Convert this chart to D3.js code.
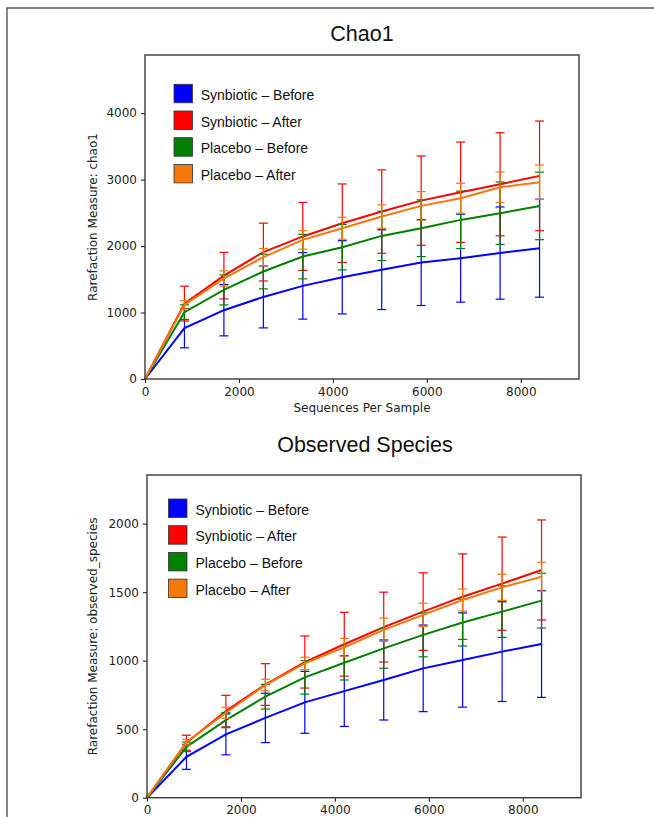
<!DOCTYPE html>
<html>
<head>
<meta charset="utf-8">
<script src="https://cdn.jsdelivr.net/npm/d3@7"></script>
<style>
  html, body { margin: 0; padding: 0; background: #fff; }
  svg { display: block; }
</style>
</head>
<body>
<svg id="chart" width="654" height="817"></svg>
<script>
// ---------------- DATA ----------------
const seqDepth = [0, 840, 1680, 2520, 3360, 4200, 5040, 5880, 6720, 7560, 8400];
const groups = ["Synbiotic \u2013 Before", "Synbiotic \u2013 After", "Placebo \u2013 Before", "Placebo \u2013 After"];
const groupColors = ["#0000ff", "#ff0000", "#007f00", "#f5780a"];

// Chao1
const chao1SynBeforeMean = [0, 765, 1035, 1235, 1401, 1530, 1645, 1752, 1818, 1895, 1968];
const chao1SynBeforeSd   = [0, 296, 386, 466, 500, 551, 600, 646, 662, 694, 737];
const chao1SynAfterMean  = [0, 1135, 1555, 1910, 2145, 2344, 2519, 2684, 2810, 2930, 3056];
const chao1SynAfterSd    = [0, 262, 350, 435, 511, 591, 627, 672, 755, 775, 825];
const chao1PlaBeforeMean = [0, 1006, 1341, 1617, 1842, 1983, 2153, 2269, 2394, 2494, 2604];
const chao1PlaBeforeSd   = [0, 110, 226, 261, 335, 341, 371, 427, 432, 470, 508];
const chao1PlaAfterMean  = [0, 1116, 1512, 1833, 2093, 2269, 2444, 2605, 2720, 2885, 2961];
const chao1PlaAfterSd    = [0, 62, 115, 130, 140, 165, 176, 215, 226, 230, 260];

// Observed species
const obsSynBeforeMean = [0, 298, 462, 582, 696, 778, 859, 944, 1005, 1066, 1122];
const obsSynBeforeSd   = [0, 91, 149, 180, 226, 258, 292, 316, 344, 364, 390];
const obsSynAfterMean  = [0, 401, 632, 826, 990, 1120, 1245, 1358, 1467, 1562, 1662];
const obsSynAfterSd    = [0, 55, 115, 152, 190, 233, 255, 283, 312, 340, 365];
const obsPlaBeforeMean = [0, 371, 566, 737, 878, 985, 1090, 1188, 1278, 1358, 1438];
const obsPlaBeforeSd   = [0, 35, 55, 90, 122, 126, 145, 160, 171, 188, 200];
const obsPlaAfterMean  = [0, 405, 620, 822, 980, 1098, 1225, 1334, 1443, 1535, 1613];
const obsPlaAfterSd    = [0, 20, 40, 42, 45, 65, 85, 85, 80, 95, 105];

const xTicks = [0, 2000, 4000, 6000, 8000];
const chao1YTicks = [0, 1000, 2000, 3000, 4000];
const obsYTicks = [0, 500, 1000, 1500, 2000];

// ---------------- DRAW ----------------
const svg = d3.select("#chart");

// outer frame (left + top edges visible)
svg.append("path")
  .attr("d", "M7,817 L7,8 L654,8")
  .attr("fill", "none").attr("stroke", "#555").attr("stroke-width", 1.4);

function drawPanel(cfg) {
  const { left, right, top, bottom, yMax, title, titleX, titleY, yLabel, xLabel,
          means, sds, yTicks, legX, legY, legTextX } = cfg;
  const x = d3.scaleLinear().domain([0, 9240]).range([left, right]);
  const y = d3.scaleLinear().domain([0, yMax]).range([bottom, top]);
  const g = svg.append("g");

  // title
  g.append("text").attr("x", titleX).attr("y", titleY)
    .attr("text-anchor", "middle")
    .style("font-family", "'Liberation Sans', Arial, sans-serif")
    .style("font-size", "21.5px").attr("fill", "#111").text(title);

  // series
  const plot = g.append("g");
  means.forEach((m, si) => {
    const col = groupColors[si];
    const sd = sds[si];
    const pts = seqDepth.map((d, i) => ({ x: d, m: m[i], s: sd[i] }));
    // error bars
    const eb = plot.append("g").attr("stroke", col).attr("stroke-width", 1.2).attr("fill", "none");
    pts.forEach(p => {
      if (p.s <= 0) return;
      eb.append("line").attr("x1", x(p.x)).attr("x2", x(p.x))
        .attr("y1", y(p.m - p.s)).attr("y2", y(p.m + p.s));
      [p.m - p.s, p.m + p.s].forEach(v => {
        eb.append("line").attr("x1", x(p.x) - 4.5).attr("x2", x(p.x) + 4.5)
          .attr("y1", y(v)).attr("y2", y(v));
      });
    });
    // mean line
    plot.append("path").datum(pts)
      .attr("d", d3.line().x(p => x(p.x)).y(p => y(p.m)))
      .attr("fill", "none").attr("stroke", col).attr("stroke-width", 2);
  });

  // axes
  const xAxis = d3.axisBottom(x).tickValues(xTicks).tickSize(4).tickPadding(4).tickFormat(d3.format("d"));
  const yAxis = d3.axisLeft(y).tickValues(yTicks).tickSize(4).tickPadding(4).tickFormat(d3.format("d"));
  const gx = g.append("g").attr("transform", `translate(0,${bottom})`).call(xAxis);
  const gy = g.append("g").attr("transform", `translate(${left},0)`).call(yAxis);
  [gx, gy].forEach(a => {
    a.select(".domain").remove();
    a.selectAll("line").attr("stroke", "#222").attr("stroke-width", 1.1);
    a.selectAll("text").style("font-family", "'DejaVu Sans', sans-serif")
      .style("font-size", "12px").attr("fill", "#222");
  });

  // frame
  g.append("rect").attr("x", left).attr("y", top)
    .attr("width", right - left).attr("height", bottom - top)
    .attr("fill", "none").attr("stroke", "#3a3a3a").attr("stroke-width", 1.4);

  // axis labels
  g.append("text").attr("transform", `translate(93,${(top + bottom) / 2}) rotate(-90)`)
    .attr("text-anchor", "middle").attr("dominant-baseline", "central")
    .style("font-family", "'DejaVu Sans', sans-serif").style("font-size", "12px")
    .attr("fill", "#222").text(yLabel);
  if (xLabel) {
    g.append("text").attr("x", (left + right) / 2).attr("y", bottom + 33)
      .attr("text-anchor", "middle")
      .style("font-family", "'DejaVu Sans', sans-serif").style("font-size", "12px")
      .attr("fill", "#222").text(xLabel);
  }

  // legend
  const leg = g.append("g");
  groups.forEach((name, i) => {
    const yy = legY + i * 26.7;
    leg.append("rect").attr("x", legX).attr("y", yy).attr("width", 18.5).attr("height", 18.5)
      .attr("fill", groupColors[i]).attr("stroke", "#333").attr("stroke-width", 0.8);
    leg.append("text").attr("x", legTextX).attr("y", yy + 15.5)
      .style("font-family", "'Liberation Sans', Arial, sans-serif").style("font-size", "14px")
      .attr("fill", "#111").text(name);
  });
}

drawPanel({
  left: 145, right: 579, top: 55, bottom: 379, yMax: 4875,
  title: "Chao1", titleX: 362, titleY: 41,
  yLabel: "Rarefaction Measure: chao1", xLabel: "Sequences Per Sample",
  means: [chao1SynBeforeMean, chao1SynAfterMean, chao1PlaBeforeMean, chao1PlaAfterMean],
  sds: [chao1SynBeforeSd, chao1SynAfterSd, chao1PlaBeforeSd, chao1PlaAfterSd],
  yTicks: chao1YTicks, legX: 174, legY: 84.3, legTextX: 200.7
});

drawPanel({
  left: 147, right: 581, top: 475, bottom: 797.7, yMax: 2355,
  title: "Observed Species", titleX: 365, titleY: 452,
  yLabel: "Rarefaction Measure: observed_species", xLabel: null,
  means: [obsSynBeforeMean, obsSynAfterMean, obsPlaBeforeMean, obsPlaAfterMean],
  sds: [obsSynBeforeSd, obsSynAfterSd, obsPlaBeforeSd, obsPlaAfterSd],
  yTicks: obsYTicks, legX: 168.5, legY: 499, legTextX: 195.5
});
</script>
</body>
</html>
